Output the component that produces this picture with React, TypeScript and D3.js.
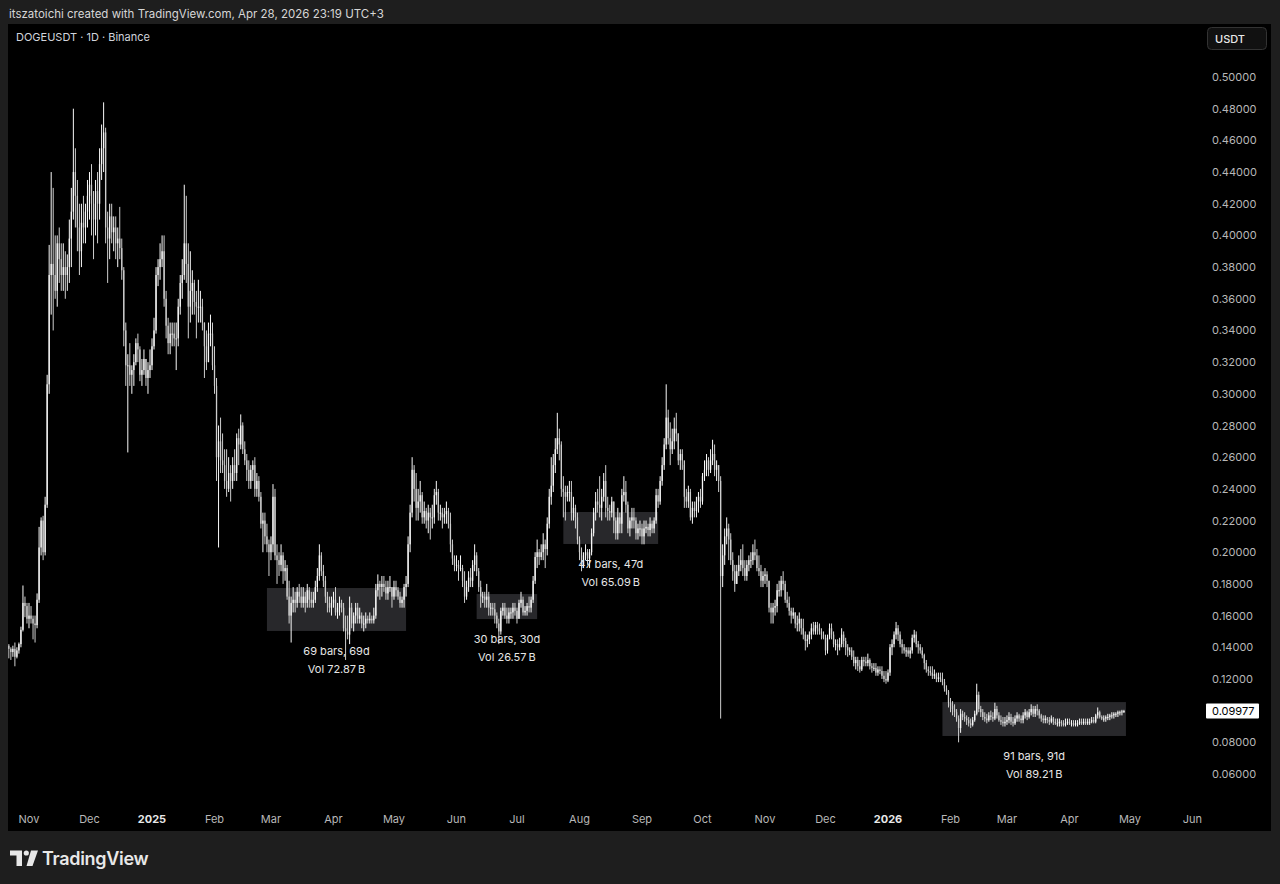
import * as d3 from 'd3'

// each bar: [high, low, close] in 0.001 USDT, one per day; open = previous close
type Bar = [number, number, number]

const FIRST_OPEN = 141

const OCT24: Bar[] = [
  [142,133,139],[140,132,137],[141,134,139],[143,128,134],[140,133,138],
  [143,136,142],[153,140,151],[179,150,168],[172,159,166],[168,155,158],
]
const NOV24: Bar[] = [
  [168,152,160],[166,155,158],[160,145,155],[160,143,154],[174,152,170],
  [216,168,203],[222,198,220],[223,195,200],[235,198,230],[312,228,306],
  [394,300,375],[440,350,382],[430,340,375],[400,360,365],[400,355,395],
  [405,370,385],[395,365,375],[395,365,380],[390,360,375],[388,365,380],
  [410,370,398],[430,380,415],[480,410,440],[455,405,425],[435,390,405],
  [420,375,390],[420,380,408],[425,395,405],[420,395,415],[435,405,425],
]
const DEC24: Bar[] = [
  [440,410,432],[445,400,420],[428,385,410],[435,400,428],[440,395,420],
  [455,410,445],[470,435,455],[484,440,465],[468,395,405],[415,370,398],
  [420,385,412],[420,395,402],[412,390,405],[412,385,395],[405,380,398],
  [418,385,392],[398,372,378],[380,330,340],[345,305,318],[325,263,318],
  [332,305,312],[318,300,315],[325,305,320],[335,318,332],[338,320,328],
  [330,308,312],[322,305,315],[328,312,322],[322,305,310],[320,300,315],
  [328,310,318],
]
const JAN25: Bar[] = [
  [335,315,330],[348,328,340],[380,338,375],[385,368,380],[395,372,385],
  [400,380,390],[400,355,360],[365,335,343],[348,325,332],[345,325,338],
  [345,330,338],[345,330,335],[345,315,335],[360,330,355],[375,350,370],
  [385,360,375],[432,372,395],[425,370,382],[395,335,355],[390,345,365],
  [378,350,370],[372,350,358],[365,335,355],[372,345,355],[365,345,355],
  [360,340,345],[345,310,330],[340,315,320],[345,320,338],[350,330,338],
  [345,315,318],
]
const FEB25: Bar[] = [
  [330,300,305],[310,245,260],[280,203,270],[285,250,258],[275,250,255],
  [265,240,245],[265,235,240],[260,238,250],[255,232,245],[260,240,255],
  [265,245,250],[275,245,272],[278,255,268],[287,265,280],[282,262,265],
  [270,255,258],[262,245,252],[258,240,245],[255,240,252],[258,245,255],
  [260,235,240],[250,235,245],[248,232,235],[238,215,218],[225,200,220],
  [225,205,210],[218,200,205],[208,185,200],
]
const MAR25: Bar[] = [
  [210,195,205],[243,200,235],[240,195,198],[205,180,195],[200,185,192],
  [205,188,198],[200,180,188],[195,182,190],[192,170,172],[182,155,160],
  [172,143,168],[178,162,170],[175,162,168],[178,165,175],[180,168,172],
  [178,165,168],[178,165,172],[175,162,168],[180,165,176],[178,165,170],
  [175,165,168],[175,165,170],[182,168,178],[190,175,185],[205,182,198],
  [200,185,188],[192,178,182],[185,168,172],[175,162,168],[172,162,165],
  [172,160,168],
]
const APR25: Bar[] = [
  [175,165,170],[178,160,162],[168,158,165],[172,160,168],[170,162,165],
  [168,150,152],[160,132,150],[160,145,148],[172,142,165],[168,152,155],
  [162,150,160],[168,155,165],[168,155,158],[165,155,160],[162,152,155],
  [160,150,155],[162,152,158],[160,155,157],[162,155,158],[160,155,157],
  [165,155,160],[180,158,176],[186,172,180],[182,170,178],[185,172,180],
  [185,175,178],[182,170,174],[182,170,178],[185,175,178],[178,165,172],
]
const MAY25: Bar[] = [
  [182,170,178],[182,172,176],[178,170,172],[175,165,168],[172,165,170],
  [180,165,178],[185,172,180],[210,178,205],[230,200,225],[260,222,252],
  [255,232,240],[250,220,228],[240,220,232],[245,225,236],[238,218,222],
  [232,218,226],[228,215,220],[230,212,225],[228,208,222],[230,215,222],
  [240,218,236],[245,230,238],[240,220,225],[230,220,225],[228,215,222],
  [228,218,224],[232,218,226],[228,215,218],[225,200,205],[208,192,196],
  [198,188,192],
]
const JUN25: Bar[] = [
  [198,188,192],[195,182,190],[198,188,190],[192,178,182],[188,168,172],
  [182,170,178],[188,175,184],[190,178,182],[195,178,192],[205,188,198],
  [200,185,188],[190,175,178],[182,165,172],[175,168,172],[175,165,170],
  [180,165,172],[175,160,165],[168,160,165],[168,160,164],[168,155,160],
  [162,152,155],[158,142,150],[165,148,163],[168,160,165],[168,158,160],
  [165,155,158],[165,155,162],[165,158,162],[168,158,165],[168,160,163],
]
const JUL25: Bar[] = [
  [165,155,158],[170,158,168],[175,165,170],[172,160,162],[166,160,163],
  [168,160,166],[172,162,165],[172,162,170],[185,168,182],[200,180,197],
  [208,190,200],[202,192,197],[205,195,200],[212,195,205],[208,190,202],
  [222,198,218],[240,215,235],[260,230,242],[262,238,255],[272,250,265],
  [288,262,272],[278,258,268],[270,235,240],[248,222,238],[242,220,235],
  [242,232,238],[245,232,238],[245,220,225],[235,220,228],[230,215,222],
  [225,205,208],
]
const AUG25: Bar[] = [
  [210,195,200],[203,188,192],[200,190,198],[205,195,200],[202,192,196],
  [202,190,200],[215,198,212],[228,210,225],[238,220,232],[240,225,230],
  [248,222,228],[240,220,235],[250,232,245],[255,222,228],[235,220,226],
  [230,220,225],[235,222,232],[232,212,220],[222,208,212],[228,208,222],
  [225,212,218],[240,212,236],[248,232,238],[245,225,230],[232,212,215],
  [222,210,220],[228,215,222],[228,215,220],[222,208,212],[218,208,215],
  [220,210,215],
]
const SEP25: Bar[] = [
  [218,205,210],[220,205,215],[220,212,216],[218,210,214],[222,210,218],
  [220,212,215],[222,212,220],[240,218,236],[240,228,232],[248,230,245],
  [260,242,255],[272,252,268],[306,265,285],[290,268,272],[282,255,265],
  [278,262,270],[285,265,278],[288,270,275],[275,255,258],[265,252,262],
  [265,252,258],[255,228,235],[240,228,232],[242,228,238],[240,220,222],
  [232,218,228],[232,222,226],[235,222,232],[238,225,235],[240,228,232],
]
const OCT25: Bar[] = [
  [250,230,248],[258,245,252],[262,248,258],[260,248,252],[265,250,258],
  [271,255,262],[268,248,252],[258,245,255],[255,238,245],[248,95,185],
  [205,178,198],[215,192,210],[222,205,215],[218,195,208],[212,192,195],
  [200,182,188],[192,175,180],[192,180,188],[198,185,192],[202,188,195],
  [205,185,190],[195,182,185],[195,182,192],[198,188,195],[200,190,195],
  [205,192,200],[208,195,198],[202,188,190],[198,185,188],[192,178,182],
  [188,178,185],
]
const NOV25: Bar[] = [
  [190,180,186],[188,178,182],[182,162,165],[168,155,162],[168,155,165],
  [170,160,166],[180,162,176],[182,172,176],[185,172,182],[188,176,180],
  [182,168,170],[175,165,168],[172,160,163],[165,155,160],[165,158,162],
  [162,152,155],[160,150,155],[162,150,158],[158,148,152],[158,145,148],
  [150,138,144],[148,140,145],[150,142,148],[155,145,152],[156,148,150],
  [156,148,154],[156,148,152],[155,148,150],[152,145,148],[150,145,146],
]
const DEC25: Bar[] = [
  [148,135,138],[148,136,146],[155,145,152],[155,145,148],[150,140,142],
  [145,138,142],[145,135,140],[146,138,142],[152,140,148],[150,140,144],
  [146,135,140],[142,134,138],[140,135,138],[140,132,134],[138,128,130],
  [134,126,132],[134,125,128],[132,124,126],[134,125,132],[134,128,131],
  [134,128,130],[136,128,132],[133,126,128],[130,124,127],[130,125,127],
  [130,122,124],[128,122,126],[128,123,125],[128,120,122],[125,118,120],
  [125,117,119],
]
const JAN26: Bar[] = [
  [126,118,124],[142,122,140],[145,135,142],[150,140,148],[156,145,152],
  [154,144,148],[150,140,142],[145,136,140],[142,136,138],[140,134,138],
  [140,134,136],[140,133,138],[148,136,146],[151,143,148],[150,140,142],
  [144,136,140],[142,136,138],[140,133,135],[136,126,130],[132,124,126],
  [128,122,125],[128,122,124],[128,120,122],[126,120,123],[124,118,120],
  [124,118,121],[124,118,120],[124,116,118],[120,112,114],[116,110,112],
  [113,102,105],
]
const FEB26: Bar[] = [
  [108,99,103],[106,97,101],[104,96,99],[101,93,95],[97,80,89],
  [101,86,98],[100,94,96],[99,93,95],[97,91,94],[96,90,92],
  [95,89,91],[96,90,94],[100,93,98],[117,97,110],[112,99,101],
  [103,96,99],[101,94,96],[99,93,95],[98,92,94],[99,93,97],
  [100,94,96],[99,93,95],[105,94,101],[103,95,97],[99,93,94],
  [97,91,93],[96,90,92],[96,90,93],
]
const MAR26: Bar[] = [
  [97,91,94],[99,92,96],[98,91,93],[96,90,92],[97,91,95],
  [99,93,97],[98,93,95],[97,92,94],[99,92,97],[101,95,99],
  [100,94,96],[101,95,99],[104,97,101],[103,96,98],[103,96,101],
  [104,97,100],[101,95,97],[98,93,95],[97,92,94],[97,92,95],
  [96,92,94],[96,91,93],[97,92,95],[96,91,93],[95,91,92],
  [95,90,92],[95,90,93],[94,90,92],[94,90,91],[95,90,92],
  [95,91,93],
]
const APR26: Bar[] = [
  [95,91,92],[94,90,92],[94,90,91],[94,90,92],[94,90,92],
  [95,91,93],[95,91,92],[95,91,93],[95,91,92],[95,91,93],
  [95,91,93],[96,92,94],[96,92,93],[98,92,97],[102,95,99],
  [100,95,96],[97,94,95],[97,93,95],[97,93,96],[98,94,96],
  [98,94,97],[99,95,97],[99,95,98],[99,96,98],[100,96,99],
  [100,97,99],[100.5,97,99.5],[100.5,98.5,99.77],
]

const MONTHS: [string, Bar[]][] = [
  ['2024-10-22', OCT24], ['2024-11-01', NOV24], ['2024-12-01', DEC24],
  ['2025-01-01', JAN25], ['2025-02-01', FEB25], ['2025-03-01', MAR25],
  ['2025-04-01', APR25], ['2025-05-01', MAY25], ['2025-06-01', JUN25],
  ['2025-07-01', JUL25], ['2025-08-01', AUG25], ['2025-09-01', SEP25],
  ['2025-10-01', OCT25], ['2025-11-01', NOV25], ['2025-12-01', DEC25],
  ['2026-01-01', JAN26], ['2026-02-01', FEB26], ['2026-03-01', MAR26],
  ['2026-04-01', APR26],
]

// range boxes: [from, to, top, bottom, line1, line2]
const RANGES: [string, string, number, number, string, string][] = [
  ['2025-02-27', '2025-05-07', 0.1774, 0.1503, '69 bars, 69d', 'Vol 72.87\u2009B'],
  ['2025-06-11', '2025-07-11', 0.1736, 0.1578, '30 bars, 30d', 'Vol 26.57\u2009B'],
  ['2025-07-24', '2025-09-09', 0.2254, 0.2052, '47 bars, 47d', 'Vol 65.09\u2009B'],
  ['2026-01-28', '2026-04-29', 0.1054, 0.0840, '91 bars, 91d', 'Vol 89.21\u2009B'],
]

const PRICE_TICKS = [0.5, 0.48, 0.46, 0.44, 0.42, 0.4, 0.38, 0.36, 0.34, 0.32, 0.3,
  0.28, 0.26, 0.24, 0.22, 0.2, 0.18, 0.16, 0.14, 0.12, 0.08, 0.06]
const LAST_PRICE = 0.09977

const FONT = 'Inter, Roboto, "Noto Sans", sans-serif'
const W = 1280, H = 884

const day = (s: string) => new Date(s + 'T00:00:00Z')

export default function App() {
  const x = d3.scaleUtc([day('2025-01-01'), day('2026-01-01')], [152, 888])
  const y = d3.scaleLinear([0.06, 0.5], [774, 77])

  const candles: { cx: number; o: number; h: number; l: number; c: number }[] = []
  let prev = FIRST_OPEN / 1000
  MONTHS.forEach(([start, bars]) => {
    const d0 = day(start)
    bars.forEach(([h, l, c], i) => {
      const cx = x(d3.utcDay.offset(d0, i))
      candles.push({ cx, o: prev, h: h / 1000, l: l / 1000, c: c / 1000 })
      prev = c / 1000
    })
  })

  const months = d3.utcMonth.range(day('2024-11-01'), day('2026-06-02'))
  const fmt = d3.format('.5f')
  const bw = 1.3

  return (
    <div style={{ position: 'fixed', inset: 0, background: '#1e1e1e' }}>
      <svg width={W} height={H} style={{ display: 'block', fontFamily: FONT }}>
        <rect width={W} height={H} fill="#1e1e1e" />
        <text x={9} y={17.5} fontSize={11.5} fill="#d6d6d6">
          itszatoichi created with TradingView.com, Apr 28, 2026 23:19 UTC+3
        </text>
        <rect x={8} y={24} width={1263} height={807} fill="#000" />
        <defs>
          <clipPath id="pane"><rect x={8} y={24} width={1192} height={784} /></clipPath>
        </defs>
        <text x={16} y={41} fontSize={11} fill="#d1d4dc">DOGEUSDT · 1D · Binance</text>

        <g clipPath="url(#pane)">
          {RANGES.map(([a, b, top, bot]) => (
            <rect key={a} x={x(day(a))} y={y(top)} width={x(day(b)) - x(day(a))}
              height={y(bot) - y(top)} fill="#28282b" />
          ))}
          {candles.map((k, i) => {
            const up = k.c >= k.o
            const col = up ? '#f8f8f8' : '#cdcdcd'
            const yt = y(Math.max(k.o, k.c)), yb = y(Math.min(k.o, k.c))
            return (
              <g key={i}>
                <rect x={k.cx - 0.5} y={y(k.h)} width={1} height={y(k.l) - y(k.h)} fill={col} />
                <rect x={k.cx - bw / 2} y={yt} width={bw} height={Math.max(1, yb - yt)} fill={col} />
              </g>
            )
          })}
        </g>

        {RANGES.map(([a, b, , bot, l1, l2]) => {
          const cx = (x(day(a)) + x(day(b))) / 2
          return (
            <g key={a} fontSize={11} fill="#e6e6e6" textAnchor="middle">
              <text x={cx} y={y(bot) + 24}>{l1}</text>
              <text x={cx} y={y(bot) + 42}>{l2}</text>
            </g>
          )
        })}

        {/* price axis */}
        <rect x={1207.5} y={27.5} width={59} height={22} rx={4} fill="#111" stroke="#333" />
        <text x={1215} y={42.5} fontSize={11} fontWeight={500} fill="#e8e8e8">USDT</text>
        {PRICE_TICKS.map((p) => (
          <text key={p} x={1212} y={y(p) + 4} fontSize={11} fill="#b8b8b8">{fmt(p)}</text>
        ))}
        <rect x={1206} y={y(LAST_PRICE) - 7.5} width={53} height={15} rx={1} fill="#fff" />
        <text x={1212} y={y(LAST_PRICE) + 4} fontSize={11} fill="#000">{fmt(LAST_PRICE)}</text>

        {/* time axis */}
        {months.map((m) => {
          const yr = m.getUTCMonth() === 0
          return (
            <text key={+m} x={x(m)} y={823} fontSize={11} textAnchor="middle"
              fill={yr ? '#e8e8e8' : '#b8b8b8'} fontWeight={yr ? 700 : 400}>
              {yr ? m.getUTCFullYear() : d3.utcFormat('%b')(m)}
            </text>
          )
        })}

        {/* logo */}
        <g fill="#e8e8e8">
          <path d="M10 850.5 H22 V866 H16.5 V855.5 H10 Z" />
          <circle cx={26.3} cy={853} r={2.6} />
          <path d="M31 850.5 H38 L32.5 866 H26.5 Z" />
        </g>
        <text x={42} y={865} fontSize={18} fontWeight={600} fill="#e8e8e8" letterSpacing={-0.3}>TradingView</text>
      </svg>
    </div>
  )
}
